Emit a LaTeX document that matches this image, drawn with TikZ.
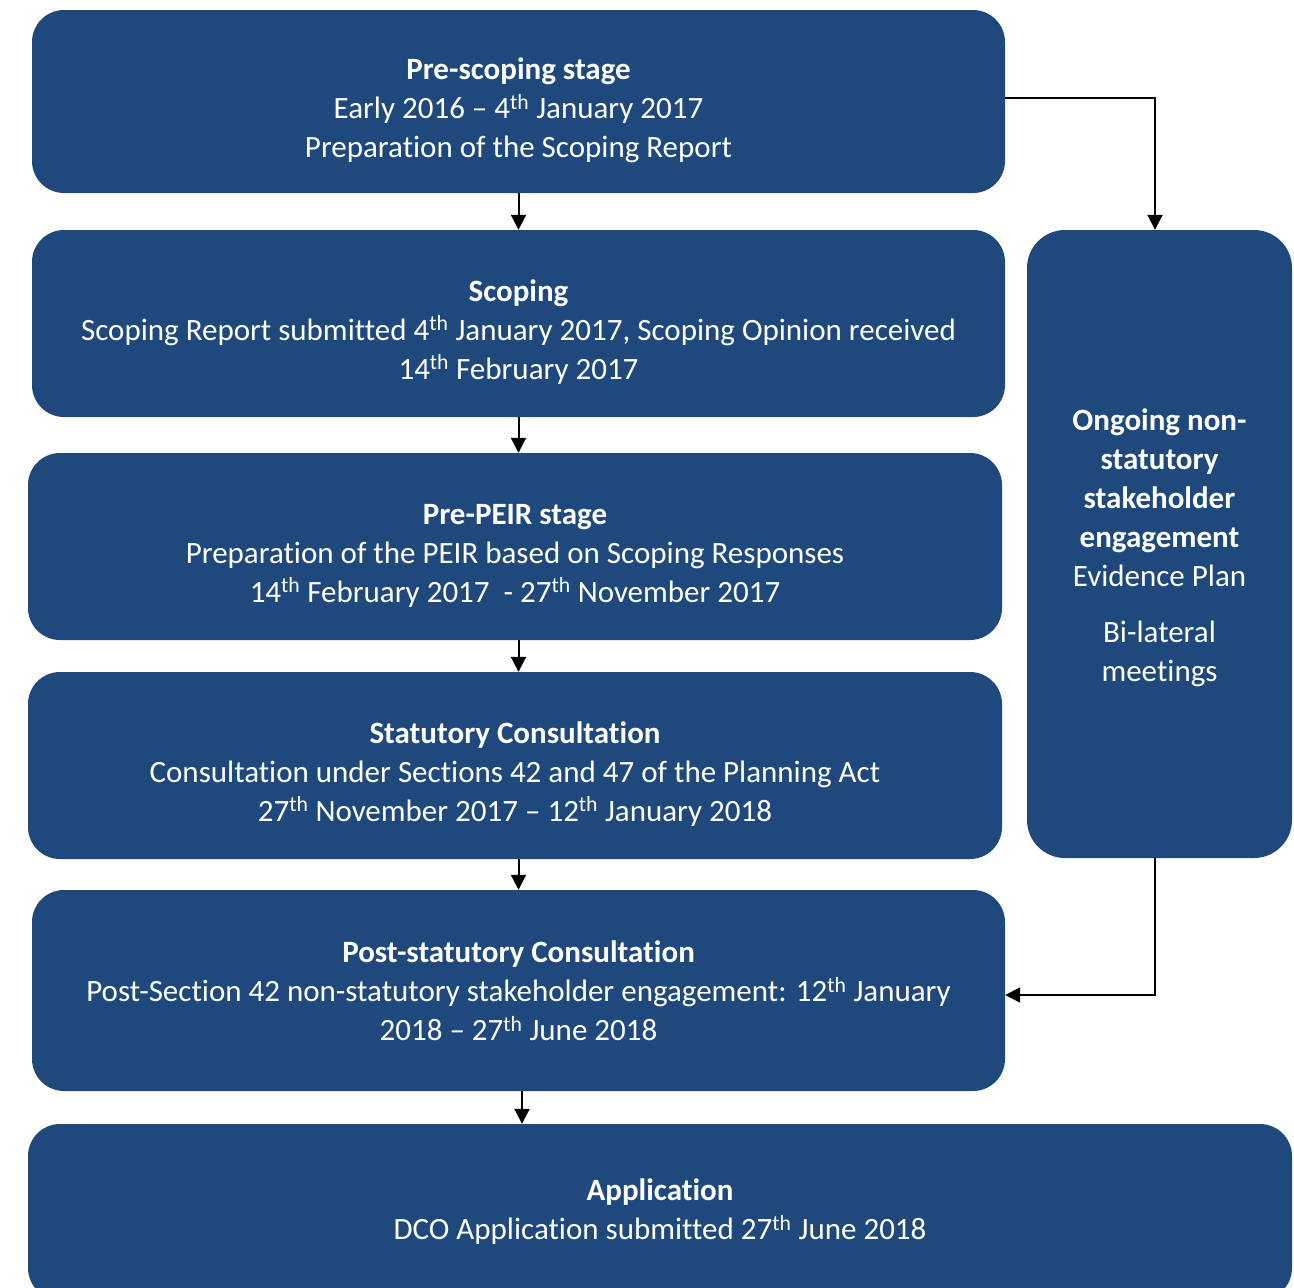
\documentclass[tikz,border=0pt]{standalone}
\usepackage{fontspec}
\setmainfont{Carlito}[RawFeature={-liga;-clig;-calt}]
\usetikzlibrary{arrows.meta}
\definecolor{stageblue}{HTML}{1F497D}
\newcommand{\toppad}[1]{\rule{0pt}{#1}}

\begin{document}
\begin{tikzpicture}
	[x=1pt,y=-1pt,every node/.style={rectangle, rounded corners=32pt, fill=stageblue, text=white, align=center, inner sep=0pt, font=\fontsize{31}{39}\selectfont},
	 link/.style={line width=2pt, -{Triangle[length=15pt,width=15pt]}}]
	\useasboundingbox (0,0) rectangle (1294,1288);
	\node[minimum width=973pt, minimum height=183pt] (n1) at (518.5,101.5) {\toppad{40pt}\textbf{Pre-scoping stage}\\Early 2016 – 4\textsuperscript{th} January 2017\\Preparation of the Scoping Report};
	\node[minimum width=973pt, minimum height=187pt] (n2) at (518.5,323.5) {\toppad{38pt}\textbf{Scoping}\\Scoping Report submitted 4\textsuperscript{th} January 2017, Scoping Opinion received\\14\textsuperscript{th} February 2017};
	\node[minimum width=974pt, minimum height=187pt] (n3) at (515,546.5) {\toppad{38pt}\textbf{Pre-PEIR stage}\\Preparation of the PEIR based on Scoping Responses\\14\textsuperscript{th} February 2017~~- 27\textsuperscript{th} November 2017};
	\node[minimum width=974pt, minimum height=187pt] (n4) at (515,765.5) {\toppad{38pt}\textbf{Statutory Consultation}\\Consultation under Sections 42 and 47 of the Planning Act\\27\textsuperscript{th} November 2017 – 12\textsuperscript{th} January 2018};
	\node[minimum width=973pt, minimum height=201pt] (n5) at (518.5,990.5) {\textbf{Post-statutory Consultation}\\Post-Section 42 non-statutory stakeholder engagement: 12\textsuperscript{th} January\\2018 – 27\textsuperscript{th} June 2018};
	\node[minimum width=1264pt, minimum height=176pt] (n6) at (660,1212) {\textbf{Application}\\DCO Application submitted 27\textsuperscript{th} June 2018};
	\node[minimum width=265pt, minimum height=628pt, rounded corners=38pt] (n7) at (1159.5,544) {\toppad{30pt}\textbf{Ongoing non-}\\\textbf{statutory}\\\textbf{stakeholder}\\\textbf{engagement}\\Evidence Plan\\[17pt]Bi-lateral\\meetings};

	\draw[link] (n1.south) -- (n2.north);
	\draw[link] (n2.south) -- (n2.south |- n3.north);
	\draw[link] (n3.south -| n2.south) -- (n2.south |- n4.north);
	\draw[link] (n4.south -| n2.south) -- (n2.south |- n5.north);
	\draw[link] ([xshift=3.5pt]n5.south) -- ([xshift=3.5pt]n5.south |- n6.north);
	\draw[link] ([yshift=3.5pt]n1.east) -| ([xshift=-4.5pt]n7.north);
	\draw[link] ([xshift=-4.5pt]n7.south) |- ([yshift=-4.5pt]n5.east);
\end{tikzpicture}
\end{document}
